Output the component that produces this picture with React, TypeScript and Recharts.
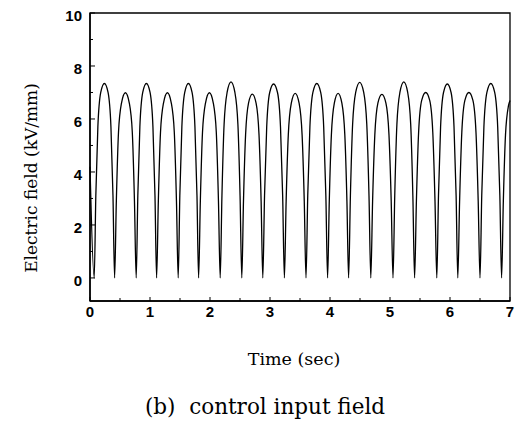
import React from 'react';
import { LineChart, Line, XAxis, YAxis, ReferenceArea } from 'recharts';

// sample times (sec) and field values (kV/mm)
const time = [
  0, 0.07,
  0.097, 0.131, 0.179, 0.24, 0.301, 0.349, 0.383, 0.41,
  0.439, 0.475, 0.525, 0.59, 0.655, 0.705, 0.741, 0.77,
  0.797, 0.831, 0.879, 0.94, 1.001, 1.049, 1.083, 1.11,
  1.139, 1.175, 1.225, 1.29, 1.355, 1.405, 1.441, 1.47,
  1.497, 1.531, 1.579, 1.64, 1.701, 1.749, 1.783, 1.81,
  1.839, 1.875, 1.925, 1.99, 2.055, 2.105, 2.141, 2.17,
  2.199, 2.235, 2.285, 2.35, 2.415, 2.465, 2.501, 2.53,
  2.558, 2.593, 2.642, 2.705, 2.768, 2.817, 2.852, 2.88,
  2.909, 2.945, 2.995, 3.06, 3.125, 3.175, 3.211, 3.24,
  3.269, 3.305, 3.355, 3.42, 3.485, 3.535, 3.571, 3.6,
  3.629, 3.665, 3.715, 3.78, 3.845, 3.895, 3.931, 3.96,
  3.988, 4.023, 4.072, 4.135, 4.198, 4.247, 4.282, 4.31,
  4.34, 4.377, 4.428, 4.495, 4.562, 4.613, 4.65, 4.68,
  4.71, 4.747, 4.798, 4.865, 4.932, 4.983, 5.02, 5.05,
  5.079, 5.115, 5.165, 5.23, 5.295, 5.345, 5.381, 5.41,
  5.44, 5.477, 5.528, 5.595, 5.662, 5.713, 5.75, 5.78,
  5.808, 5.843, 5.892, 5.955, 6.018, 6.067, 6.102, 6.13,
  6.16, 6.197, 6.248, 6.315, 6.382, 6.433, 6.47, 6.5,
  6.529, 6.565, 6.615, 6.68, 6.745, 6.795, 6.831, 6.86,
  6.889, 6.925, 6.975, 7.0,
];

const field = [
  4.2, 0,
  3.1, 5.7, 7.0, 7.34, 7.0, 5.7, 3.1, 0,
  2.9, 5.5, 6.6, 6.99, 6.6, 5.5, 2.9, 0,
  3.1, 5.7, 7.0, 7.34, 7.0, 5.7, 3.1, 0,
  2.9, 5.5, 6.6, 6.99, 6.6, 5.5, 2.9, 0,
  3.1, 5.7, 7.0, 7.34, 7.0, 5.7, 3.1, 0,
  2.9, 5.5, 6.6, 6.99, 6.6, 5.5, 2.9, 0,
  3.1, 5.8, 7.0, 7.4, 7.0, 5.8, 3.1, 0,
  2.9, 5.4, 6.6, 6.94, 6.6, 5.4, 2.9, 0,
  3.1, 5.7, 7.0, 7.32, 7.0, 5.7, 3.1, 0,
  2.9, 5.4, 6.6, 6.97, 6.6, 5.4, 2.9, 0,
  3.1, 5.7, 7.0, 7.34, 7.0, 5.7, 3.1, 0,
  2.9, 5.4, 6.6, 6.97, 6.6, 5.4, 2.9, 0,
  3.1, 5.8, 7.0, 7.38, 7.0, 5.8, 3.1, 0,
  2.9, 5.4, 6.6, 6.93, 6.6, 5.4, 2.9, 0,
  3.1, 5.8, 7.0, 7.4, 7.0, 5.8, 3.1, 0,
  2.9, 5.5, 6.7, 7.0, 6.7, 5.5, 2.9, 0,
  3.1, 5.7, 7.0, 7.32, 7.0, 5.7, 3.1, 0,
  2.9, 5.5, 6.7, 7.0, 6.7, 5.5, 2.9, 0,
  3.1, 5.7, 7.0, 7.34, 7.0, 5.7, 3.1, 0,
  2.9, 5.4, 6.5, 6.7,
];

const xTicks = [0, 0.5, 1, 1.5, 2, 2.5, 3, 3.5, 4, 4.5, 5, 5.5, 6, 6.5, 7];
const yTicks = [0, 1, 2, 3, 4, 5, 6, 7, 8, 9, 10];

const data = time.map((t, i) => ({ t, v: field[i] }));

const tickFont = { fontFamily: '"Liberation Sans", Arial, sans-serif', fontWeight: 700, fontSize: 15 };
const serif = '"DejaVu Serif", serif';

const XTick = ({ x, y, payload }: any) => {
  const major = Number.isInteger(payload.value);
  return (
    <g>
      <line x1={x} x2={x} y1={y} y2={y - (major ? 4 : 3)} stroke="#000" />
      {major && (
        <text x={x} y={y + 16} textAnchor="middle" fill="#000" style={tickFont}>
          {payload.value}
        </text>
      )}
    </g>
  );
};

const YTick = ({ x, y, payload }: any) => {
  const major = payload.value % 2 === 0;
  return (
    <g>
      <line x1={x} x2={x + (major ? 5 : 3)} y1={y} y2={y} stroke="#000" />
      {major && (
        <text x={x - 8} y={y + 8} textAnchor="end" fill="#000" style={tickFont}>
          {payload.value}
        </text>
      )}
    </g>
  );
};

const XTitle = ({ viewBox }: any) => {
  const cx = viewBox.x + viewBox.width / 2;
  return (
    <g fill="#000" style={{ fontFamily: serif }}>
      <text x={cx - 6} y={viewBox.y + 64} textAnchor="middle" fontSize={17.5}>
        Time (sec)
      </text>
      <text x={cx - 35} y={viewBox.y + 113} textAnchor="middle" fontSize={21.5}>
        (b){'\u00a0\u00a0'}control input field
      </text>
    </g>
  );
};

const YTitle = ({ viewBox }: any) => {
  const cx = 37;
  const cy = viewBox.y + viewBox.height / 2 + 21;
  return (
    <text
      x={cx}
      y={cy}
      textAnchor="middle"
      fontSize={17}
      fill="#000"
      style={{ fontFamily: serif }}
      transform={`rotate(-90, ${cx}, ${cy})`}
    >
      Electric field (kV/mm)
    </text>
  );
};

export default function App() {
  return (
    <div style={{ position: 'absolute', left: 0, top: 0, width: 522, height: 431, background: '#fff' }}>
      <LineChart width={522} height={431} data={data} margin={{ top: 13, right: 12, bottom: 100, left: 0 }}>
        <XAxis
          type="number"
          dataKey="t"
          domain={[0, 7]}
          ticks={xTicks}
          interval={0}
          height={30}
          tickSize={0}
          tickMargin={0}
          tick={<XTick />}
          axisLine={{ stroke: '#000', strokeWidth: 1.5 }}
          label={<XTitle />}
        />
        <YAxis
          type="number"
          domain={[-0.87, 10]}
          ticks={yTicks}
          interval={0}
          width={90}
          tickSize={0}
          tickMargin={0}
          tick={<YTick />}
          allowDataOverflow
          axisLine={{ stroke: '#000', strokeWidth: 1.5 }}
          label={<YTitle />}
        />
        <ReferenceArea x1={0} x2={7} y1={-0.87} y2={10} fill="none" stroke="#000" strokeWidth={1.3} />
        <Line
          type="monotone"
          dataKey="v"
          stroke="#000"
          strokeWidth={1.3}
          dot={false}
          isAnimationActive={false}
        />
      </LineChart>
    </div>
  );
}
